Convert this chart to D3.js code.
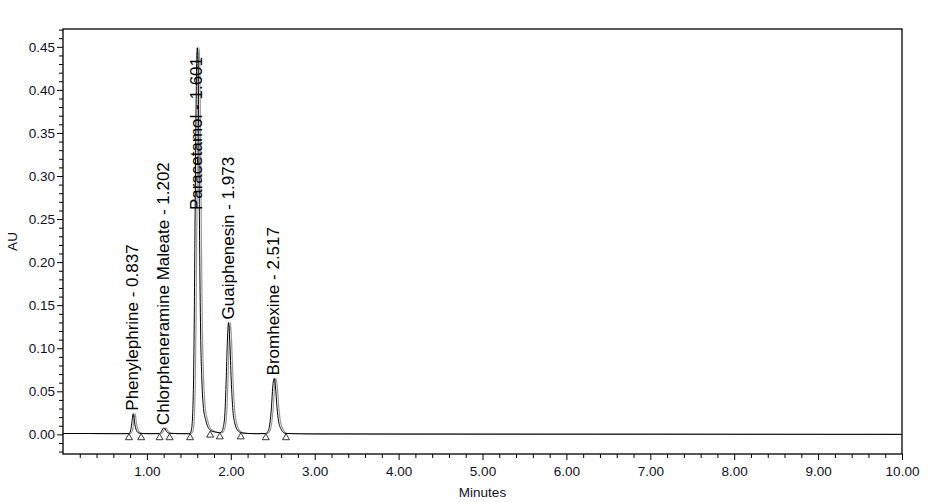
<!DOCTYPE html>
<html lang="en">
  <head>
    <meta charset="utf-8">
    <title>Chromatogram</title>
    <script src="https://d3js.org/d3.v7.min.js"></script>
    <style>
      body { margin: 0; background: #fff; }
      text { font-family: "Liberation Sans", Arial, sans-serif; }
    </style>
  </head>
  <body>
    <div id="my_dataviz"></div>

    <script>

    // peaks (name, retention time)
    var peakNames = ["Phenylephrine", "Chlorpheneramine Maleate", "Paracetamol", "Guaiphenesin", "Bromhexine"];
    var peakTimes = [0.837, 1.202, 1.601, 1.973, 2.517];
    var peakHeights = [0.024, 0.0075, 0.449, 0.130, 0.065];

    // integration start / end markers
    var markerTimes = [0.786, 0.932, 1.151, 1.270, 1.515, 1.754, 1.869, 2.119, 2.417, 2.658];
    var markerLevels = [0.001, 0.001, 0.001, 0.001, 0.001, 0.004, 0.002, 0.002, 0.001, 0.001];

    // trace (minutes, AU)
    var traceTimes = [0, 0.3, 0.7, 0.786, 0.805, 0.82, 0.837, 0.853, 0.87, 0.895, 0.932, 1.05,
      1.151, 1.17, 1.19, 1.202, 1.215, 1.235, 1.27, 1.4,
      1.50, 1.52, 1.535, 1.548, 1.556, 1.565, 1.572, 1.582, 1.592, 1.601, 1.610, 1.619, 1.628, 1.64, 1.655, 1.675, 1.70, 1.725, 1.754, 1.80,
      1.869, 1.89, 1.91, 1.93, 1.945, 1.958, 1.973, 1.988, 2.005, 2.025, 2.05, 2.08, 2.119, 2.2, 2.3,
      2.417, 2.44, 2.465, 2.485, 2.50, 2.517, 2.533, 2.55, 2.57, 2.60, 2.63, 2.658, 3.0, 5.0, 7.0, 10.0];
    var traceValues = [0.001, 0.001, 0.0008, 0.001, 0.004, 0.013, 0.024, 0.014, 0.006, 0.002, 0.001, 0.0008,
      0.001, 0.003, 0.0065, 0.0075, 0.0065, 0.003, 0.0012, 0.0008,
      0.0008, 0.002, 0.008, 0.03, 0.063, 0.14, 0.225, 0.34, 0.425, 0.449, 0.425, 0.34, 0.225, 0.12, 0.063, 0.03, 0.017, 0.009, 0.005, 0.003,
      0.002, 0.003, 0.008, 0.025, 0.063, 0.105, 0.130, 0.108, 0.063, 0.028, 0.012, 0.005, 0.002, 0.001, 0.0008,
      0.001, 0.003, 0.012, 0.032, 0.055, 0.065, 0.055, 0.032, 0.015, 0.006, 0.002, 0.001, 0.0005, 0.0003, 0.0002, 0];

    // axis ticks
    var xTickValues = [1, 2, 3, 4, 5, 6, 7, 8, 9, 10];
    var yTickValues = [0, 0.05, 0.10, 0.15, 0.20, 0.25, 0.30, 0.35, 0.40, 0.45];

    var margin = {top: 29, right: 36, bottom: 48, left: 63},
        width = 938 - margin.left - margin.right,
        height = 502 - margin.top - margin.bottom;

    var svg = d3.select("#my_dataviz")
      .append("svg")
        .attr("width", 938)
        .attr("height", 502)
      .append("g")
        .attr("transform", "translate(" + margin.left + "," + margin.top + ")");

    var x = d3.scaleLinear().domain([0, 10]).range([0, width]);
    var y = d3.scaleLinear().domain([-0.0228, 0.4707]).range([height, 0]);

    // minor ticks
    var xMinor = d3.range(1, 50).map(function(i) { return i * 0.2; })
      .filter(function(v) { return Math.abs(v - Math.round(v)) > 0.01; });
    var yMinor = d3.range(-2, 48).map(function(i) { return i * 0.01; })
      .filter(function(v) { return Math.abs(v * 20 - Math.round(v * 20)) > 0.01; });

    svg.append("g")
      .attr("transform", "translate(0," + height + ")")
      .call(d3.axisBottom(x).tickValues(xMinor).tickSize(4).tickFormat(""))
      .call(function(g) { g.select(".domain").remove(); });

    var xAxis = svg.append("g")
      .attr("transform", "translate(0," + height + ")")
      .call(d3.axisBottom(x).tickValues(xTickValues).tickSize(6).tickPadding(6)
        .tickFormat(d3.format(".2f")));
    xAxis.select(".domain").remove();

    svg.append("g")
      .call(d3.axisLeft(y).tickValues(yMinor).tickSize(4).tickFormat(""))
      .call(function(g) { g.select(".domain").remove(); });

    var yAxis = svg.append("g")
      .call(d3.axisLeft(y).tickValues(yTickValues).tickSize(6).tickPadding(2)
        .tickFormat(d3.format(".2f")));
    yAxis.select(".domain").remove();

    svg.selectAll(".tick line").attr("stroke", "#000").attr("stroke-width", 1);
    svg.selectAll(".tick text")
      .style("font-size", "13.5px")
      .style("fill", "#10102a");

    // frame
    svg.append("rect")
      .attr("x", 0).attr("y", 0)
      .attr("width", width).attr("height", height)
      .attr("fill", "none")
      .attr("stroke", "#000")
      .attr("stroke-width", 1.3);

    // axis titles
    svg.append("text")
      .attr("text-anchor", "middle")
      .attr("x", width / 2)
      .attr("y", height + 43)
      .text("Minutes")
      .style("font-size", "13.5px")
      .style("fill", "#10102a");

    svg.append("text")
      .attr("text-anchor", "middle")
      .attr("transform", "rotate(-90)")
      .attr("x", -height / 2)
      .attr("y", -46)
      .text("AU")
      .style("font-size", "13.5px")
      .style("fill", "#10102a");

    // trace
    var traceData = traceTimes.map(function(t, i) { return [t, traceValues[i]]; });
    var line = d3.line()
      .x(function(d) { return x(d[0]); })
      .y(function(d) { return y(d[1]); })
      .curve(d3.curveMonotoneX);

    svg.append("clipPath").attr("id", "clip")
      .append("rect").attr("width", width).attr("height", height);

    var plot = svg.append("g").attr("clip-path", "url(#clip)");

    // second (grey) injection sits a hair to the right
    plot.append("path")
      .datum(traceData)
      .attr("d", line)
      .attr("transform", "translate(1.8,0)")
      .attr("fill", "none")
      .attr("stroke", "#9a9a9a")
      .attr("stroke-width", 1.2);

    plot.append("path")
      .datum(traceData)
      .attr("d", line)
      .attr("fill", "none")
      .attr("stroke", "#000")
      .attr("stroke-width", 1);

    // triangle markers
    var tri = d3.symbol().type(d3.symbolTriangle).size(21);
    plot.selectAll(".marker")
      .data(markerTimes)
      .enter()
      .append("path")
        .attr("class", "marker")
        .attr("d", tri)
        .attr("transform", function(d, i) {
          return "translate(" + x(d) + "," + (y(markerLevels[i]) + 4.2) + ")";
        })
        .attr("fill", "#fff")
        .attr("stroke", "#222")
        .attr("stroke-width", 0.9);

    // peak labels, rotated, clamped below the top of the frame
    svg.selectAll(".peakLabel")
      .data(peakNames)
      .enter()
      .append("text")
        .attr("class", "peakLabel")
        .text(function(d, i) { return d + " - " + peakTimes[i].toFixed(3); })
        .style("font-size", "17px")
        .style("fill", "#000")
        .each(function(d, i) {
          var len = this.getComputedTextLength();
          var start = Math.max(y(peakHeights[i]) - 3, 28 + len);
          d3.select(this)
            .attr("transform", "translate(" + (x(peakTimes[i]) + 5) + "," + start + ") rotate(-90)");
        });

    </script>
  </body>
</html>
